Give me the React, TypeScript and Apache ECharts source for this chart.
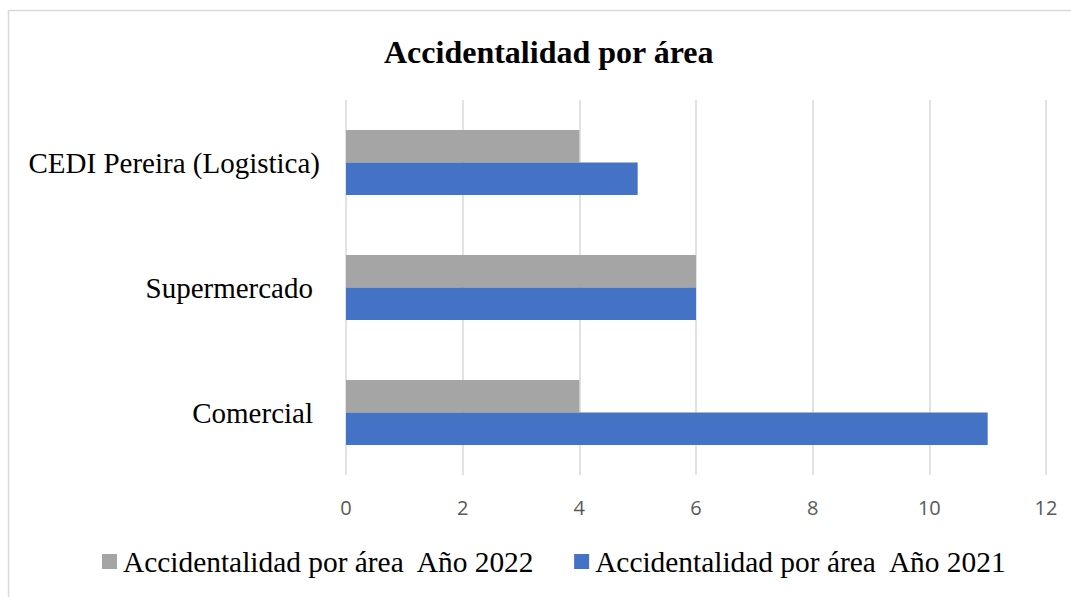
import React, { useEffect, useRef } from "react";
import * as echarts from "echarts";

const categories = ["Comercial", "Supermercado", "CEDI Pereira (Logistica)"];
const values2021 = [11, 6, 5];
const values2022 = [4, 6, 4];
const seriesNames = ["Accidentalidad por área  Año 2022", "Accidentalidad por área  Año 2021"];
const titleText = "Accidentalidad por área";

export default function App() {
  const ref = useRef<HTMLDivElement>(null);
  useEffect(() => {
    const chart = echarts.init(ref.current!, null, { renderer: "svg" });
    const serif = "'Liberation Serif', 'Times New Roman', serif";
    const labelPad = [7, 7, 0];
    chart.setOption({
      animation: false,
      backgroundColor: "#ffffff",
      title: {
        text: titleText,
        left: 379,
        top: 31,
        textStyle: { fontFamily: serif, fontSize: 32, fontWeight: "bold", color: "#000" },
      },
      graphic: [
        {
          type: "rect",
          shape: { x: 8.5, y: 10.5, width: 1100, height: 700 },
          style: { fill: "none", stroke: "#d9d9d9", lineWidth: 1.5 },
          silent: true,
        },
      ],
      legend: {
        data: [seriesNames[0], seriesNames[1]],
        bottom: 16,
        left: 97,
        itemWidth: 15,
        itemHeight: 15,
        itemGap: 39,
        icon: "rect",
        textStyle: { fontFamily: serif, fontSize: 29.4, color: "#000", padding: [0, 0, 0, 1] },
      },
      grid: { left: 346, right: 25, top: 100, bottom: 122, containLabel: false },
      xAxis: {
        type: "value",
        min: 0,
        max: 12,
        interval: 2,
        axisLine: { show: false },
        axisTick: { show: false },
        splitLine: { show: true, lineStyle: { color: "#d9d9d9", width: 1.5 } },
        axisLabel: { fontFamily: "'Open Sans', sans-serif", fontSize: 20, color: "#595959", margin: 22 },
      },
      yAxis: {
        type: "category",
        data: categories.map((c, i) => ({
          value: c,
          textStyle: { padding: [0, labelPad[i], 0, 0] },
        })),
        axisLine: { show: false },
        axisTick: { show: false },
        axisLabel: { fontFamily: serif, fontSize: 29, color: "#000", margin: 26 },
      },
      series: [
        {
          name: seriesNames[0],
          type: "bar",
          data: values2022,
          itemStyle: { color: "#a5a5a5" },
          barGap: "0%",
          barCategoryGap: "48%",
        },
        {
          name: seriesNames[1],
          type: "bar",
          data: values2021,
          itemStyle: { color: "#4472c4" },
          barGap: "0%",
          barCategoryGap: "48%",
        },
      ],
    });
    return () => chart.dispose();
  }, []);
  return <div ref={ref} style={{ width: 1071, height: 597, position: "absolute", left: 0, top: 0 }} />;
}
